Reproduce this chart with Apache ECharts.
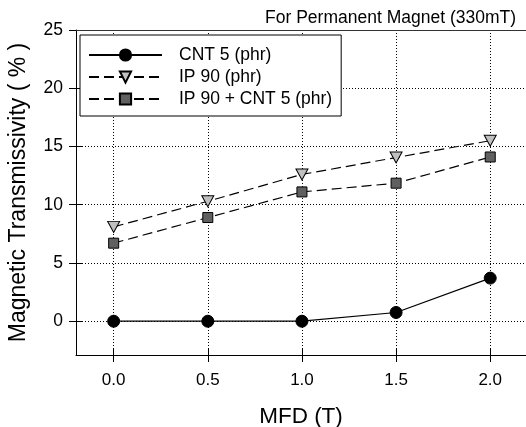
<!DOCTYPE html>
<html>
<head>
<meta charset="utf-8">
<script src="https://cdn.jsdelivr.net/npm/echarts@6/dist/echarts.min.js"></script>
<style>
  html, body { margin: 0; padding: 0; background: #fff; }
</style>
</head>
<body>
<div id="myChart" style="width:526px;height:427px;"></div>
<script>
// field strength (T)
const mfd = [0.0, 0.5, 1.0, 1.5, 2.0];
const cnt5 = [0, 0, 0, 0.75, 3.7];
const ip90 = [8.1, 10.3, 12.6, 14.05, 15.5];
const ip90cnt5 = [6.7, 8.9, 11.1, 11.85, 14.1];
const xTicks = [0.0, 0.5, 1.0, 1.5, 2.0];
const yTicks = [0, 5, 10, 15, 20, 25];
const yGridTicks = [0, 5, 10, 15, 20];

const font = '"Liberation Sans", Arial, sans-serif';

const pairs = arr => mfd.map((x, i) => [x, arr[i]]);

let myChart = echarts.init(document.getElementById('myChart'));
myChart.setOption({
  animation: false,
  title: {
    text: 'For Permanent Magnet (330mT)',
    right: 5,
    top: 4,
    textStyle: { fontFamily: font, fontSize: 17.5, fontWeight: 'normal', color: '#000' }
  },
  legend: {
    orient: 'vertical',
    left: 80,
    top: 35,
    padding: [9, 9, 6, 8],
    itemWidth: 73,
    itemHeight: 14,
    itemGap: 0,
    backgroundColor: '#fff',
    borderColor: '#000',
    borderWidth: 1,
    textStyle: { fontFamily: font, fontSize: 17.5, color: '#000', lineHeight: 22, padding: [0, 0, 0, 12] },
    data: ['CNT 5 (phr)', 'IP 90 (phr)', 'IP 90 + CNT 5 (phr)']
  },
  grid: { left: 76, right: 0, top: 30, bottom: 72, outerBoundsMode: 'none', containLabel: false },
  xAxis: [
    {
      type: 'value',
      min: -0.2,
      max: 2.19,
      name: 'MFD (T)',
      nameLocation: 'middle',
      nameGap: 50,
      nameTextStyle: { fontFamily: font, fontSize: 22.5, color: '#000' },
      axisLine: { show: true, onZero: false, lineStyle: { color: '#000', width: 1 } },
      axisTick: { show: true, length: 7, customValues: xTicks, lineStyle: { color: '#000' } },
      axisLabel: {
        customValues: xTicks,
        margin: 17,
        fontFamily: font, fontSize: 17, color: '#000',
        formatter: v => v.toFixed(1)
      },
      splitLine: { show: true, lineStyle: { color: '#000', type: [1, 2], width: 1 } }
    },
    {
      // top frame line
      type: 'value',
      position: 'top',
      min: -0.2,
      max: 2.19,
      axisLine: { show: true, onZero: false, lineStyle: { color: '#333', width: 1 } },
      axisTick: { show: false },
      axisLabel: { show: false },
      splitLine: { show: false }
    },
    {
      // inner half of the crossing ticks
      type: 'value',
      position: 'bottom',
      min: -0.2,
      max: 2.19,
      axisLine: { show: false, onZero: false },
      axisTick: { show: true, inside: true, length: 7, customValues: xTicks, lineStyle: { color: '#000' } },
      axisLabel: { show: false },
      splitLine: { show: false }
    }
  ],
  yAxis: [
    {
      type: 'value',
      min: -2.9,
      max: 25,
      name: 'Magnetic Transmissivity ( % )',
      nameLocation: 'middle',
      nameGap: 46,
      nameTextStyle: { fontFamily: font, fontSize: 23, color: '#000' },
      axisLine: { show: true, onZero: false, lineStyle: { color: '#000', width: 1 } },
      axisTick: { show: true, length: 7, customValues: yTicks, lineStyle: { color: '#000' } },
      axisLabel: {
        customValues: yTicks,
        margin: 13,
        fontFamily: font, fontSize: 17.5, color: '#000'
      },
      splitLine: { show: false }
    },
    {
      type: 'value',
      min: -2.9,
      max: 25,
      position: 'left',
      axisLine: { show: false, onZero: false },
      axisTick: { show: true, inside: true, length: 7, customValues: yGridTicks, lineStyle: { color: '#000' } },
      axisLabel: { show: false },
      splitLine: { show: true, lineStyle: { color: '#000', type: [1, 2], width: 1 } }
    }
  ],
  series: [
    {
      name: 'CNT 5 (phr)',
      type: 'line',
      data: pairs(cnt5),
      symbol: 'circle',
      symbolSize: 12,
      itemStyle: { color: '#000', borderColor: '#000', borderWidth: 1 },
      lineStyle: { color: '#000', width: 1.2, type: 'solid' },
      z: 3
    },
    {
      name: 'IP 90 (phr)',
      type: 'line',
      data: pairs(ip90),
      symbol: 'path://M0,0 L10,0 L5,9 Z',
      symbolSize: [12, 11],
      itemStyle: { color: '#c0c0c0', borderColor: '#000', borderWidth: 1 },
      lineStyle: { color: '#000', width: 1.2, type: [10, 5] },
      z: 3
    },
    {
      name: 'IP 90 + CNT 5 (phr)',
      type: 'line',
      data: pairs(ip90cnt5),
      symbol: 'rect',
      symbolSize: 10,
      itemStyle: { color: '#606060', borderColor: '#000', borderWidth: 1 },
      lineStyle: { color: '#000', width: 1.2, type: [10, 5] },
      z: 3
    }
  ]
});
</script>
</body>
</html>
